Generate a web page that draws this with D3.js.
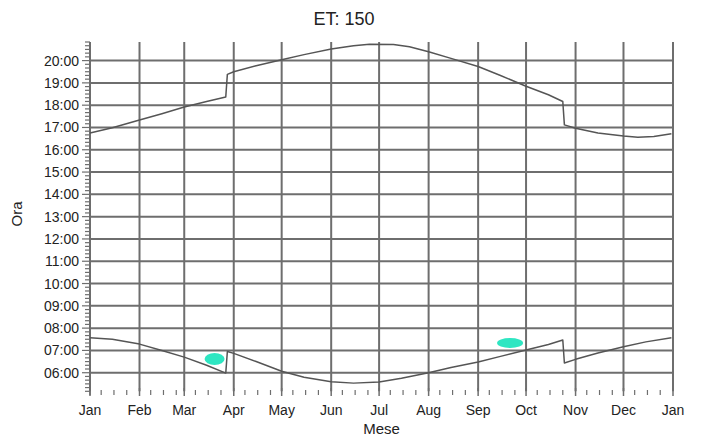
<!DOCTYPE html>
<html>
<head>
<meta charset="utf-8">
<script src="https://cdn.jsdelivr.net/npm/d3@7"></script>
<style>
  html, body { margin: 0; padding: 0; background: #fff; }
  svg { display: block; }
  text { font-family: "Liberation Sans", Arial, sans-serif; fill: #222; }
</style>
</head>
<body>
<svg id="chart" width="705" height="439"></svg>
<script>
// ---- data ----
const title = "ET: 150";
const xTitle = "Mese";
const yTitle = "Ora";
const monthLabels = ["Jan","Feb","Mar","Apr","May","Jun","Jul","Aug","Sep","Oct","Nov","Dec","Jan"];
const hourTicks = ["06:00","07:00","08:00","09:00","10:00","11:00","12:00","13:00","14:00","15:00","16:00","17:00","18:00","19:00","20:00"];

const sunsetDates = ["2021-01-01","2021-01-15","2021-02-01","2021-02-15","2021-03-01","2021-03-15","2021-03-27","2021-03-28","2021-04-01","2021-04-15","2021-05-01","2021-05-15","2021-06-01","2021-06-15","2021-06-25","2021-07-10","2021-07-20","2021-08-01","2021-08-15","2021-09-01","2021-09-15","2021-10-01","2021-10-15","2021-10-24","2021-10-25","2021-11-01","2021-11-15","2021-12-01","2021-12-10","2021-12-20","2021-12-31"];
const sunsetTimes = ["16:45","16:59","17:20","17:37","17:55","18:10","18:22","19:23","19:30","19:46","20:02","20:16","20:31","20:40","20:44","20:43","20:37","20:24","20:06","19:44","19:20","18:51","18:28","18:10","17:07","16:58","16:45","16:37","16:34","16:36","16:43"];

const sunriseDates = ["2021-01-01","2021-01-15","2021-02-01","2021-02-15","2021-03-01","2021-03-15","2021-03-27","2021-03-28","2021-04-01","2021-04-15","2021-05-01","2021-05-15","2021-06-01","2021-06-15","2021-07-01","2021-07-15","2021-08-01","2021-08-15","2021-09-01","2021-09-15","2021-10-01","2021-10-15","2021-10-24","2021-10-25","2021-11-01","2021-11-15","2021-12-01","2021-12-15","2021-12-31"];
const sunriseTimes = ["07:34","07:30","07:17","07:00","06:42","06:20","05:59","06:57","06:52","06:30","06:04","05:48","05:36","05:32","05:35","05:45","06:00","06:14","06:29","06:44","07:01","07:16","07:28","06:26","06:36","06:53","07:10","07:23","07:34"];

const markDates = ["2021-03-20","2021-09-21"];
const markTimes = ["06:37","07:20"];

// ---- helpers ----
const parseDate = d3.timeParse("%Y-%m-%d");
const toHours = s => { const [h, m] = s.split(":").map(Number); return h + m / 60; };

const svg = d3.select("#chart");
const x = d3.scaleTime()
  .domain([new Date(2021, 0, 1), new Date(2022, 0, 1)])
  .range([90, 673]);
const y = d3.scaleLinear()
  .domain([5 + 10 / 60, 20 + 50 / 60])
  .range([391.3, 42]);

const gridColor = "#6e6e6e";
const lineColor = "#555";

// vertical grid lines (month boundaries)
const monthStarts = d3.range(13).map(i => new Date(2021, i, 1));
svg.append("g").selectAll("line").data(monthStarts).join("line")
  .attr("x1", d => x(d)).attr("x2", d => x(d))
  .attr("y1", y.range()[1]).attr("y2", y.range()[0])
  .attr("stroke", gridColor).attr("stroke-width", 2);

// horizontal grid lines (hours)
const hourVals = hourTicks.map(toHours);
svg.append("g").selectAll("line").data(hourVals).join("line")
  .attr("x1", x.range()[0]).attr("x2", x.range()[1])
  .attr("y1", d => y(d)).attr("y2", d => y(d))
  .attr("stroke", gridColor).attr("stroke-width", 2);

// y axis with minor ticks every 10 minutes
const minorY = d3.range(Math.ceil(y.domain()[0] * 6), Math.floor(y.domain()[1] * 6) + 1).map(v => v / 6);
const yAxisG = svg.append("g");
yAxisG.append("line")
  .attr("x1", 90).attr("x2", 90)
  .attr("y1", y.range()[1]).attr("y2", 395)
  .attr("stroke", gridColor).attr("stroke-width", 1.5);
yAxisG.selectAll("line.minor").data(minorY).join("line").attr("class", "minor")
  .attr("x1", d => Math.abs(d - Math.round(d)) < 1e-6 ? 82 : 85).attr("x2", 90)
  .attr("y1", d => y(d)).attr("y2", d => y(d))
  .attr("stroke", gridColor).attr("stroke-width", 1.2);
yAxisG.selectAll("text").data(hourTicks).join("text")
  .attr("x", 79).attr("y", d => y(toHours(d)) + 5)
  .attr("text-anchor", "end").attr("font-size", 14)
  .text(d => d);

// x axis with minor ticks
const minorX = [];
for (let m = 0; m < 12; m++) for (const dd of [8, 16, 24]) minorX.push(new Date(2021, m, dd));
const xAxisG = svg.append("g");
xAxisG.selectAll("line.major").data(monthStarts).join("line").attr("class", "major")
  .attr("x1", d => x(d)).attr("x2", d => x(d))
  .attr("y1", 388).attr("y2", 396)
  .attr("stroke", gridColor).attr("stroke-width", 1.5);
xAxisG.selectAll("line.minor").data(minorX).join("line").attr("class", "minor")
  .attr("x1", d => x(d)).attr("x2", d => x(d))
  .attr("y1", 390).attr("y2", 395)
  .attr("stroke", gridColor).attr("stroke-width", 1.2);
xAxisG.selectAll("text").data(monthLabels).join("text")
  .attr("x", (d, i) => x(monthStarts[i])).attr("y", 415)
  .attr("text-anchor", "middle").attr("font-size", 14)
  .text(d => d);

// curves
const line = d3.line().x(d => x(d.date)).y(d => y(d.h));
const sunset = sunsetDates.map((d, i) => ({ date: parseDate(d), h: toHours(sunsetTimes[i]) }));
const sunrise = sunriseDates.map((d, i) => ({ date: parseDate(d), h: toHours(sunriseTimes[i]) }));
[sunset, sunrise].forEach(data => {
  svg.append("path").datum(data)
    .attr("d", line)
    .attr("fill", "none")
    .attr("stroke", lineColor)
    .attr("stroke-width", 1.5)
    .attr("stroke-linejoin", "round");
});

// cyan marks
const marks = markDates.map((d, i) => ({ date: parseDate(d), h: toHours(markTimes[i]) }));
svg.append("g").selectAll("ellipse").data(marks).join("ellipse")
  .attr("cx", d => x(d.date)).attr("cy", d => y(d.h))
  .attr("rx", (d, i) => i === 0 ? 10 : 13).attr("ry", (d, i) => i === 0 ? 6 : 5)
  .attr("fill", "#2ee6c2");

// titles
svg.append("text").attr("x", 344).attr("y", 25)
  .attr("text-anchor", "middle").attr("font-size", 18).text(title);
svg.append("text").attr("x", (x.range()[0] + x.range()[1]) / 2).attr("y", 434)
  .attr("text-anchor", "middle").attr("font-size", 15).text(xTitle);
svg.append("text").attr("transform", "translate(22,214) rotate(-90)")
  .attr("text-anchor", "middle").attr("font-size", 15).text(yTitle);
</script>
</body>
</html>
